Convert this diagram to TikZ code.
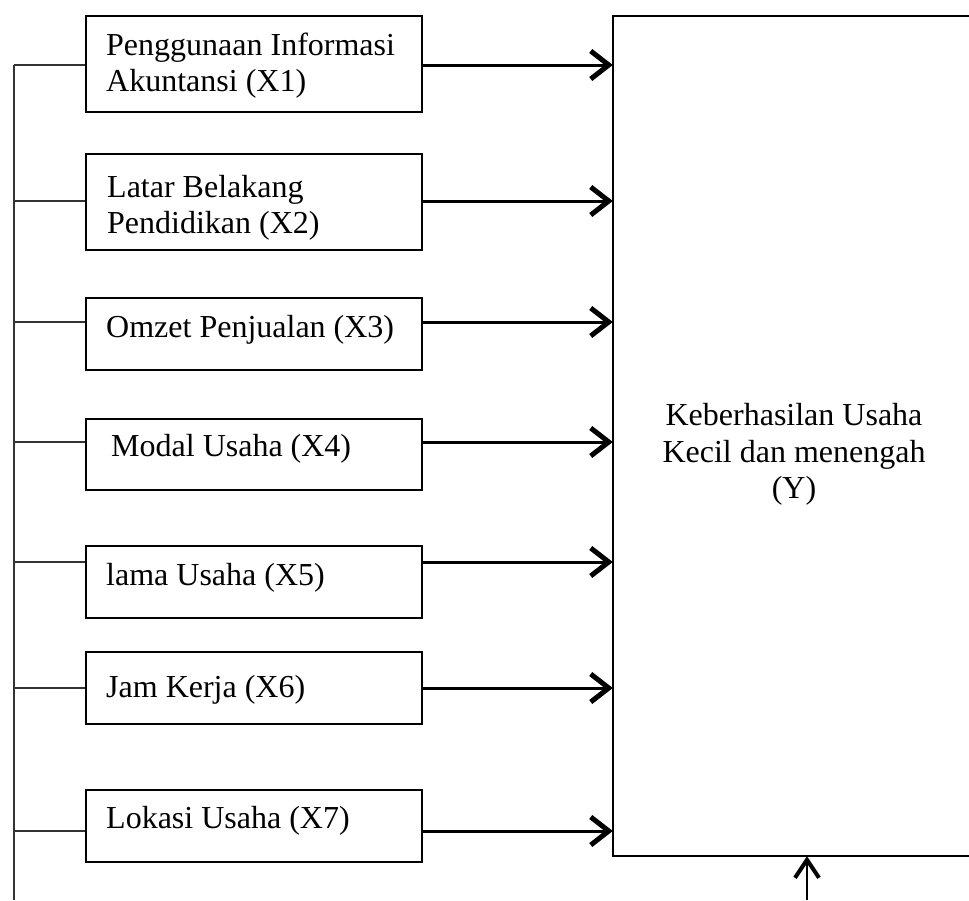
\documentclass[tikz,border=0pt]{standalone}
\usepackage{fontspec}
\setmainfont{Liberation Serif}
\usetikzlibrary{arrows.meta}
\begin{document}
\begin{tikzpicture}[x=1pt,y=-1pt,
  varbox/.style={draw,line width=2.6pt,minimum width=336pt,inner sep=0pt,rectangle},
  lbl/.style={anchor=base west,inner sep=0pt,font=\fontsize{32}{36}\selectfont},
  ylbl/.style={anchor=base,inner sep=0pt,font=\fontsize{32}{37}\selectfont},
  feed/.style={line width=3pt,-{Straight Barb[length=18pt,width=28pt,line width=5pt]}},
  upfeed/.style={line width=2.2pt,-{Straight Barb[length=18pt,width=24pt,line width=4pt]}},
  bus/.style={line width=1.5pt,draw=black!80},
  bigbox/.style={line width=2.2pt}]
\useasboundingbox (0,0) rectangle (969,900);

% dependent variable box (right side runs off the page)
\node[minimum width=356pt,minimum height=840pt,inner sep=0pt] (Y) at (791,436) {};
\draw[bigbox] (Y.north east) -- (Y.north west) -- (Y.south west) -- (Y.south east);
\node[ylbl] (y1) at (794,425) {Keberhasilan Usaha};
\node[ylbl] (y2) at (794,462) {Kecil dan menengah};
\node[ylbl] (y3) at (794,498) {(Y)};

% independent variable boxes
\node[varbox,minimum height=96pt] (x1) at (254,64) {};
\node[varbox,minimum height=96pt] (x2) at (254,202) {};
\node[varbox,minimum height=72pt] (x3) at (254,334) {};
\node[varbox,minimum height=71pt] (x4) at (254,454.5) {};
\node[varbox,minimum height=72pt] (x5) at (254,582) {};
\node[varbox,minimum height=72pt] (x6) at (254,688) {};
\node[varbox,minimum height=72pt] (x7) at (254,826) {};

\node[lbl] (t1a) at (106,55) {Penggunaan Informasi};
\node[lbl] (t1b) at (106,91) {Akuntansi (X1)};
\node[lbl] (t2a) at (107,197) {Latar Belakang};
\node[lbl] (t2b) at (107,233) {Pendidikan (X2)};
\node[lbl] (t3) at (106,337) {Omzet Penjualan (X3)};
\node[lbl] (t4) at (111,456) {Modal Usaha (X4)};
\node[lbl] (t5) at (106,585) {lama Usaha (X5)};
\node[lbl] (t6) at (106,697) {Jam Kerja (X6)};
\node[lbl] (t7) at (106,828) {Lokasi Usaha (X7)};

% bus on the left
\coordinate (b1) at (14,65);
\coordinate (b2) at (14,201);
\coordinate (b3) at (14,322);
\coordinate (b4) at (14,442);
\coordinate (b5) at (14,562);
\coordinate (b6) at (14,688);
\coordinate (b7) at (14,831);
\coordinate (bend) at (14,900);
\draw[bus] (b1) -- (bend);
\foreach \i in {1,...,7}{
  \draw[bus] (b\i) -- (b\i -| x\i.west);
  \draw[feed] (b\i -| x\i.east) -- (b\i -| Y.west);
}

% arrow from below
\coordinate (yb) at (807,900);
\draw[upfeed] (yb) -- (yb |- Y.south);
\end{tikzpicture}
\end{document}
